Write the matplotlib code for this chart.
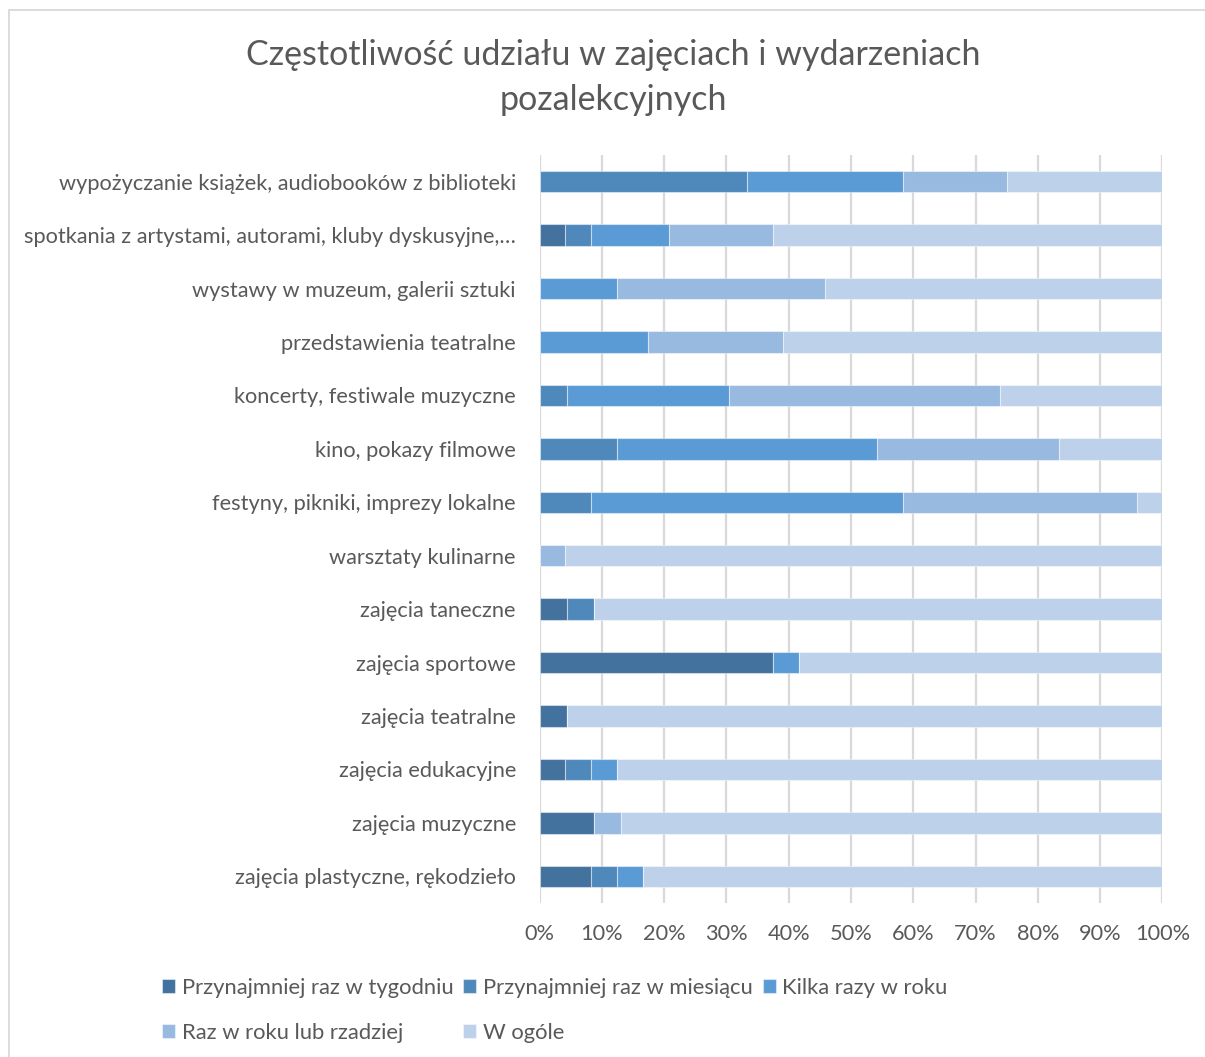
import matplotlib
matplotlib.use("Agg")
import matplotlib.pyplot as plt
from matplotlib.patches import Rectangle
import numpy as np

categories = [
    "wypożyczanie książek, audiobooków z biblioteki",
    "spotkania z artystami, autorami, kluby dyskusyjne,…",
    "wystawy w muzeum, galerii sztuki",
    "przedstawienia teatralne",
    "koncerty, festiwale muzyczne",
    "kino, pokazy filmowe",
    "festyny, pikniki, imprezy lokalne",
    "warsztaty kulinarne",
    "zajęcia taneczne",
    "zajęcia sportowe",
    "zajęcia teatralne",
    "zajęcia edukacyjne",
    "zajęcia muzyczne",
    "zajęcia plastyczne, rękodzieło",
]

series_names = [
    "Przynajmniej raz w tygodniu",
    "Przynajmniej raz w miesiącu",
    "Kilka razy w roku",
    "Raz w roku lub rzadziej",
    "W ogóle",
]

tygodniu = [0, 4.17, 0, 0, 0, 0, 0, 0, 4.35, 37.5, 4.35, 4.17, 8.70, 8.33]
miesiacu = [33.33, 4.17, 0, 0, 4.35, 12.5, 8.33, 0, 4.35, 0, 0, 4.17, 0, 4.17]
kilka = [25.0, 12.5, 12.5, 17.39, 26.09, 41.67, 50.0, 0, 0, 4.17, 0, 4.17, 0, 4.17]
raz_w_roku = [16.67, 16.67, 33.33, 21.74, 43.48, 29.17, 37.5, 4.17, 0, 0, 0, 0, 4.35, 0]
w_ogole = [25.0, 62.5, 54.17, 60.87, 26.09, 16.67, 4.17, 95.83, 91.3, 58.33, 95.65, 87.5, 86.96, 83.33]

xticks = [0, 10, 20, 30, 40, 50, 60, 70, 80, 90, 100]
xtick_labels = ["0%", "10%", "20%", "30%", "40%", "50%", "60%", "70%", "80%", "90%", "100%"]

colors = ["#43729E", "#4F89BC", "#5B9BD5", "#98B9E0", "#BDD1EA"]
text_color = "#595959"

plt.rcParams["font.family"] = ["Lato", "DejaVu Sans"]

W, H = 1205, 1057
fig = plt.figure(figsize=(W / 100, H / 100), dpi=100)
fig.patch.set_facecolor("white")

# chart frame (cropped at right and bottom)
fig.patches.append(Rectangle((9 / W, -0.1), 1.2, (1 - 10 / H) + 0.1,
                             transform=fig.transFigure, fill=False,
                             edgecolor="#D9D9D9", linewidth=1.3))

left, right = 539.5 / W, 1162.5 / W
top, bottom = 1 - 155 / H, 1 - 903 / H
ax = fig.add_axes([left, bottom, right - left, top - bottom])

data = [tygodniu, miesiacu, kilka, raz_w_roku, w_ogole]
y = np.arange(len(categories))
cum = np.zeros(len(categories))
handles = []
for vals, name, col in zip(data, series_names, colors):
    v = np.array(vals, dtype=float)
    b = ax.barh(y, v, left=cum, height=0.4, color=col, label=name,
                edgecolor=(1, 1, 1, 0.45), linewidth=0.8, zorder=3)
    handles.append(b)
    cum += v

ax.set_xlim(0, 100)
ax.set_ylim(len(categories) - 0.5, -0.5)
ax.set_xticks(xticks)
ax.set_xticklabels(xtick_labels)
ax.set_yticks(y)
ax.set_yticklabels(categories)
ax.tick_params(axis="both", length=0, colors=text_color, labelsize=15.7)
ax.tick_params(axis="y", pad=17)
ax.tick_params(axis="x", pad=15)
for s in ax.spines.values():
    s.set_visible(False)
ax.grid(axis="x", color="#D9D9D9", linewidth=1.6, zorder=0)
ax.set_axisbelow(True)

fig.text(613.5 / W, 1 - 55 / H, "Częstotliwość udziału w zajęciach i wydarzeniach",
         ha="center", va="center", fontsize=24.5, color=text_color)
fig.text(613.5 / W, 1 - 100 / H, "pozalekcyjnych",
         ha="center", va="center", fontsize=24.5, color=text_color)

order = [0, 3, 1, 4, 2]
leg = fig.legend([handles[i] for i in order], [series_names[i] for i in order],
                 ncol=3, loc="upper left", bbox_to_anchor=(162 / W, 1 - 978 / H),
                 frameon=False, fontsize=15.8, handlelength=0.6, handleheight=0.6,
                 handletextpad=0.3, columnspacing=0.45, labelspacing=1.12,
                 borderaxespad=0, borderpad=0)
for t in leg.get_texts():
    t.set_color(text_color)

fig.savefig("out.png", dpi=100, facecolor="white")
